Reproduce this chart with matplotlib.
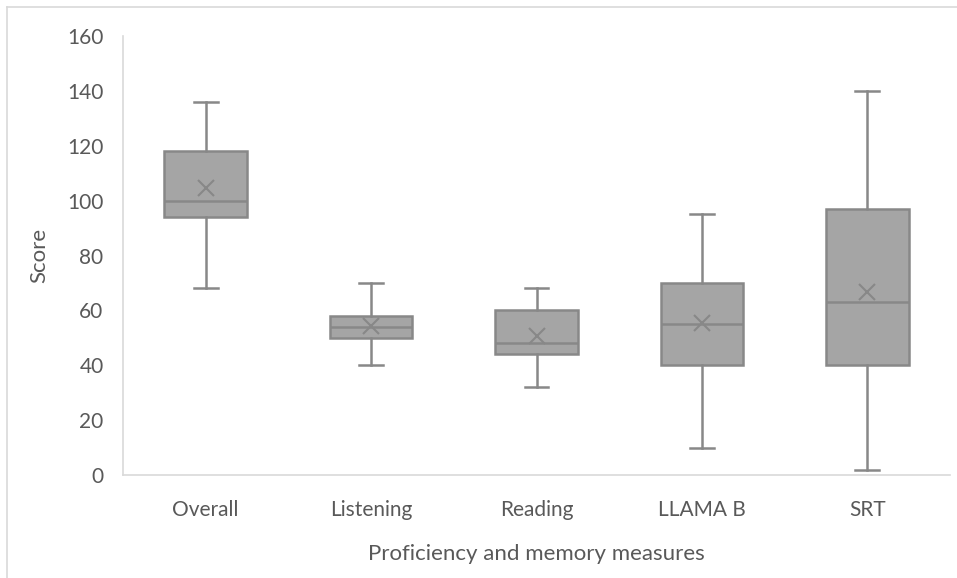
import matplotlib.pyplot as plt
from matplotlib.lines import Line2D

# Data
categories = ['Overall', 'Listening', 'Reading', 'LLAMA B', 'SRT']
whisker_low = [68, 40, 32, 10, 2]
q1 = [94, 50, 44, 40, 40]
median = [100, 54, 48, 55, 63]
q3 = [118, 58, 60, 70, 97]
whisker_high = [136, 70, 68, 95, 140]
mean = [104.5, 54.2, 50.8, 55.3, 66.8]

plt.rcParams['font.family'] = ['Lato', 'DejaVu Sans']
text_color = '#595959'
box_fill = '#a5a5a5'
box_edge = '#888888'

stats = []
for i in range(len(categories)):
    stats.append({'label': categories[i], 'whislo': whisker_low[i], 'q1': q1[i], 'med': median[i],
                  'q3': q3[i], 'whishi': whisker_high[i], 'mean': mean[i], 'fliers': []})

fig = plt.figure(figsize=(9.57, 5.78), dpi=100)
ax = fig.add_axes([123 / 957, 1 - 475 / 578, (950 - 123) / 957, (475 - 36) / 578])

ax.bxp(stats, positions=range(1, len(categories) + 1), widths=0.5, patch_artist=True,
       showmeans=True, capwidths=0.145,
       boxprops=dict(facecolor=box_fill, edgecolor=box_edge, linewidth=1.8),
       medianprops=dict(color=box_edge, linewidth=1.8),
       whiskerprops=dict(color=box_edge, linewidth=1.8),
       capprops=dict(color=box_edge, linewidth=1.8),
       meanprops=dict(marker='x', markeredgecolor=box_edge, markersize=11, markeredgewidth=1.5))

ax.set_xlim(0.5, 5.5)
ax.set_ylim(0, 160)
ax.set_yticks(range(0, 161, 20))

for s in ['top', 'right']:
    ax.spines[s].set_visible(False)
for s in ['left', 'bottom']:
    ax.spines[s].set_color('#d9d9d9')
    ax.spines[s].set_linewidth(1.2)

ax.tick_params(axis='both', length=0, labelsize=15, colors=text_color)
ax.tick_params(axis='y', pad=14)
ax.tick_params(axis='x', pad=18)

ax.set_ylabel('Score', fontsize=16, color=text_color, labelpad=13)
ax.set_xlabel('Proficiency and memory measures', fontsize=16, color=text_color, labelpad=17)

# outer frame (left and top visible)
fig.add_artist(Line2D([7 / 957, 7 / 957], [0, 1 - 7 / 578], color='#d9d9d9', lw=1.2))
fig.add_artist(Line2D([7 / 957, 1], [1 - 7 / 578, 1 - 7 / 578], color='#d9d9d9', lw=1.2))

plt.savefig('out.png', dpi=100)
